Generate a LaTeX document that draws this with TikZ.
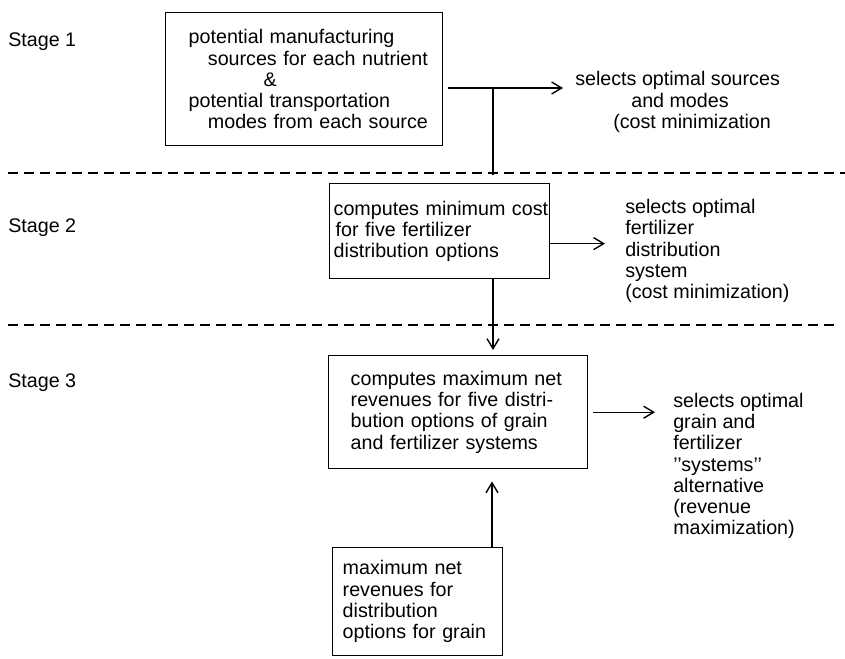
\documentclass[tikz,border=0pt]{standalone}
\usepackage{fontspec}
\setmainfont{Liberation Sans}
\usetikzlibrary{arrows.meta, positioning}

\begin{document}
\begin{tikzpicture}[x=0.025cm, y=-0.025cm, font=\fontsize{14}{15.1}\selectfont,
  bx/.style={draw, line width=1pt, anchor=north west, align=left, inner ysep=0pt, inner xsep=0.1cm},
  lpad/.style={execute at begin node={\leftskip=#1}},
  res/.style={anchor=west, align=left, inner sep=0pt},
  stg/.style={anchor=west, inner sep=0pt},
  ar/.style={-{Straight Barb[length=2.5mm, width=3mm]}, line width=1pt},
  sep/.style={line width=1pt, dash pattern=on 0.25cm off 0.15cm}]
\useasboundingbox (0,0) rectangle (845,658);
% stages
\node[stg] (s1) at (8,42) {Stage 1};
\node[stg] (s2) at (8,228) {Stage 2};
\node[stg] (s3) at (8,383) {Stage 3};
\draw[sep] (8,173) -- (845,173);
\draw[sep] (8,325) -- (838,325);
% boxes
\node[bx, lpad=0.475cm, minimum width=6.925cm, minimum height=3.325cm, text width=6.725cm] (b1) at (165,12)
  {potential manufacturing\\ \hspace*{0.48cm}sources for each nutrient\\ \hspace*{1.875cm}\&\\ potential transportation\\ \hspace*{0.48cm}modes from each source};
\node[bx, inner xsep=0.05cm, lpad=0.05cm, minimum width=5.5cm, minimum height=2.375cm, text width=5.4cm] (b2) at (329,183)
  {\mbox{computes minimum cost}\\ \hspace*{0.05cm}for five fertilizer\\ distribution options\\[0.15cm]};
\node[bx, lpad=0.45cm, minimum width=6.475cm, minimum height=2.825cm, text width=6.275cm] (b3) at (328,355)
  {computes maximum net\\ revenues for five distri-\\ bution options of grain\\ and fertilizer systems};
\node[bx, lpad=0.15cm, minimum width=4.25cm, minimum height=2.7cm, text width=4.05cm] (b4) at (332,547)
  {maximum net\\ revenues for\\ distribution\\ options for grain};
% results
\node[res] (o1) at (575,102) {selects optimal sources\\ \hspace*{1.4cm}and modes\\ \hspace*{0.95cm}(cost minimization};
\node[res] (o2) at (625,251) {selects optimal\\ fertilizer\\ distribution\\ system\\ (cost minimization)};
\node[res] (o3) at (673,466) {selects optimal\\ grain and\\ fertilizer\\ {'}{'}systems{'}{'}\\ alternative\\ (revenue\\ maximization)};
% connectors
\coordinate (j1) at (493,88);
\coordinate (j3) at (492,0);
\draw[ar, shorten <=0.125cm, shorten >=0.3cm] (b1.east |- j1) -- (o1.west |- j1);
\draw[line width=1pt, shorten >=0.2cm] (j1) -- (b2.north -| j1);
\draw[ar, shorten >=0.5cm] ([yshift=-0.31cm]b2.east) -- ([yshift=-0.31cm]b2.east -| o2.west);
\draw[ar, shorten >=0.125cm] (b2.south -| j1) -- (b3.north -| j1);
\draw[ar, shorten <=0.125cm, shorten >=0.45cm] (b3.east) -- (b3.east -| o3.west);
\draw[ar, shorten >=0.3cm] (b4.north -| j3) -- (b3.south -| j3);
\end{tikzpicture}
\end{document}
